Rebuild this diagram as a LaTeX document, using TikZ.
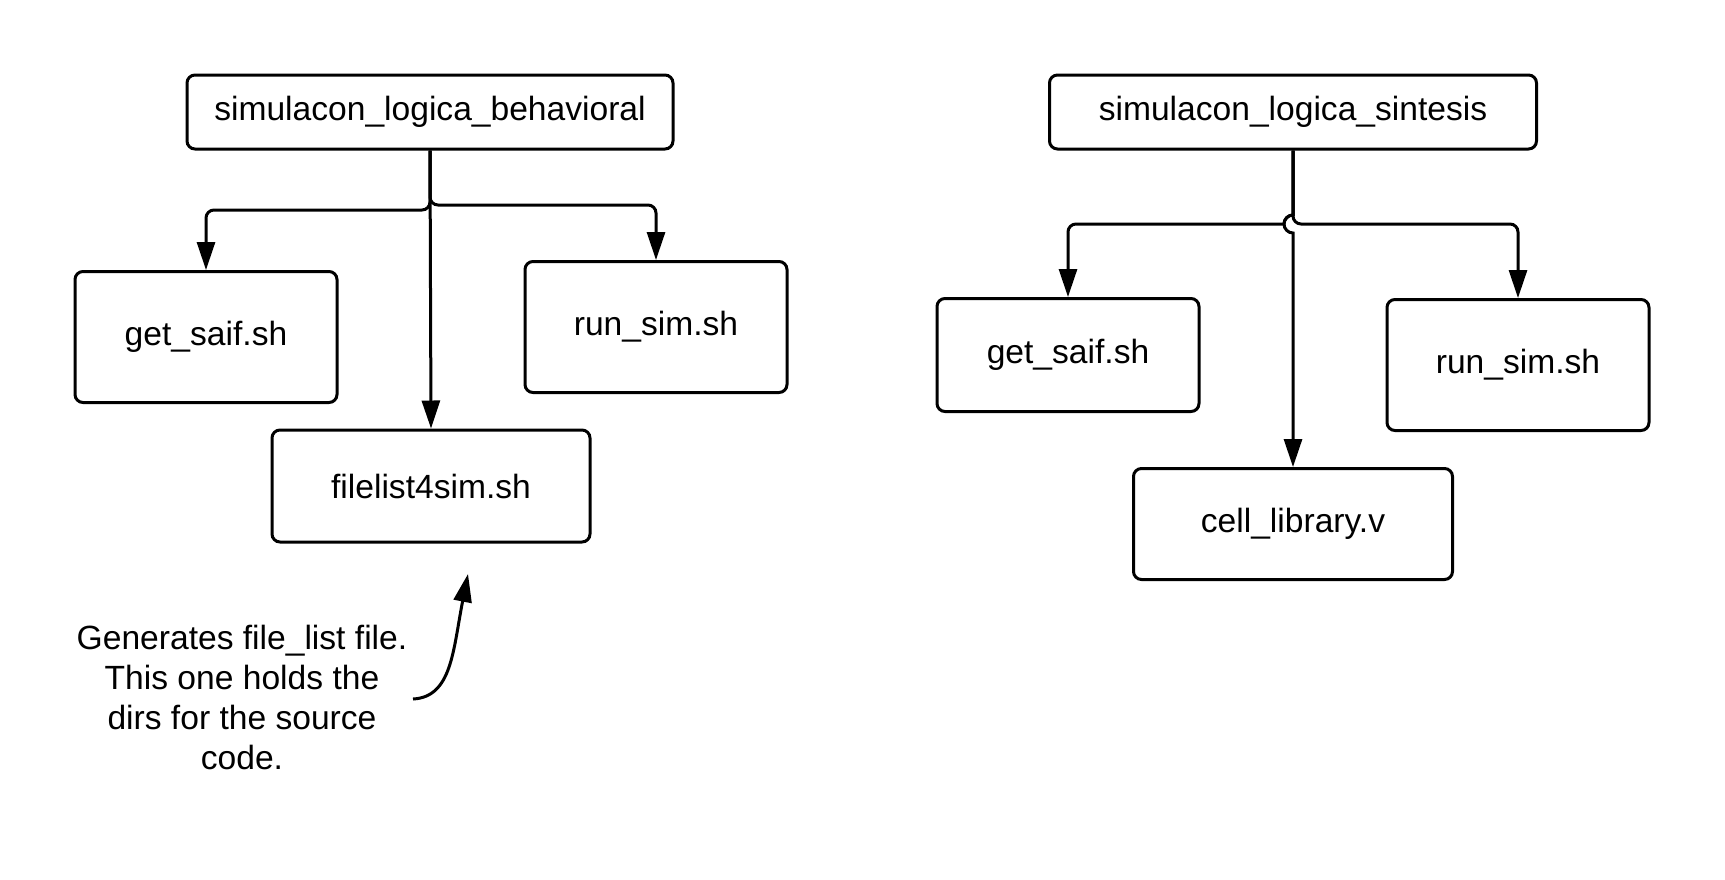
\documentclass[tikz,border=0pt]{standalone}
\usepackage{fontspec}
\setmainfont{Liberation Sans}
\usetikzlibrary{arrows.meta}
\begin{document}
\begin{tikzpicture}[x=0.5pt,y=-0.5pt,
  box/.style={draw,line width=1.5pt,rounded corners=4pt,inner sep=0pt,
    font=\fontsize{16.8}{20}\selectfont},
  conn/.style={line width=1.5pt,-{Triangle[length=14pt,width=9pt]}},
  note/.style={align=center,font=\fontsize{16.8}{20}\selectfont}]
\useasboundingbox (0,0) rectangle (1725,879);
% left diagram
\node[box,minimum width=243pt,minimum height=37pt] (tL) at (430,112) {simulacon\_logica\_behavioral};
\node[box,minimum width=131pt,minimum height=65.5pt] (gL) at (206,337) {get\_saif.sh};
\node[box,minimum width=131pt,minimum height=65.5pt] (rL) at (656,327) {run\_sim.sh};
\node[box,minimum width=159pt,minimum height=56pt] (fL) at (431,486) {filelist4sim.sh};
\coordinate (yLl) at (0,210);
\coordinate (yLr) at (0,205);
\draw[conn] (tL.south) -- (fL.north);
\draw[conn,rounded corners=4pt] (tL.south) |- (gL.north |- yLl) -- (gL.north);
\draw[conn,rounded corners=4pt] (tL.south) |- (rL.north |- yLr) -- (rL.north);
\node[note] (nt) at (242,697) {Generates file\_list file.\\This one holds the\\dirs for the source\\code.};
\coordinate (a1) at (413,699);
\coordinate (a2) at (468,574);
\draw[conn] (a1) .. controls (452,697) and (453,650) .. (a2);
% right diagram
\node[box,minimum width=243.5pt,minimum height=37pt] (tR) at (1293,112) {simulacon\_logica\_sintesis};
\node[box,minimum width=131pt,minimum height=56.5pt] (gR) at (1068,355) {get\_saif.sh};
\node[box,minimum width=131pt,minimum height=65.5pt] (rR) at (1518,365) {run\_sim.sh};
\node[box,minimum width=159.5pt,minimum height=55.5pt] (cR) at (1293,524) {cell\_library.v};
\coordinate (yR) at (0,224);
\coordinate (hop) at (0,215);
\draw[conn] (tR.south) -- (tR.south |- hop) arc[start angle=90,end angle=270,radius=4.5pt] -- (cR.north);
\draw[conn] (tR.south) -- (tR.south |- hop) arc[start angle=90,end angle=180,radius=4.5pt] [rounded corners=4pt] -- (gR.north |- yR) -- (gR.north);
\draw[conn,rounded corners=4pt] (tR.south) |- (rR.north |- yR) -- (rR.north);
\end{tikzpicture}
\end{document}
